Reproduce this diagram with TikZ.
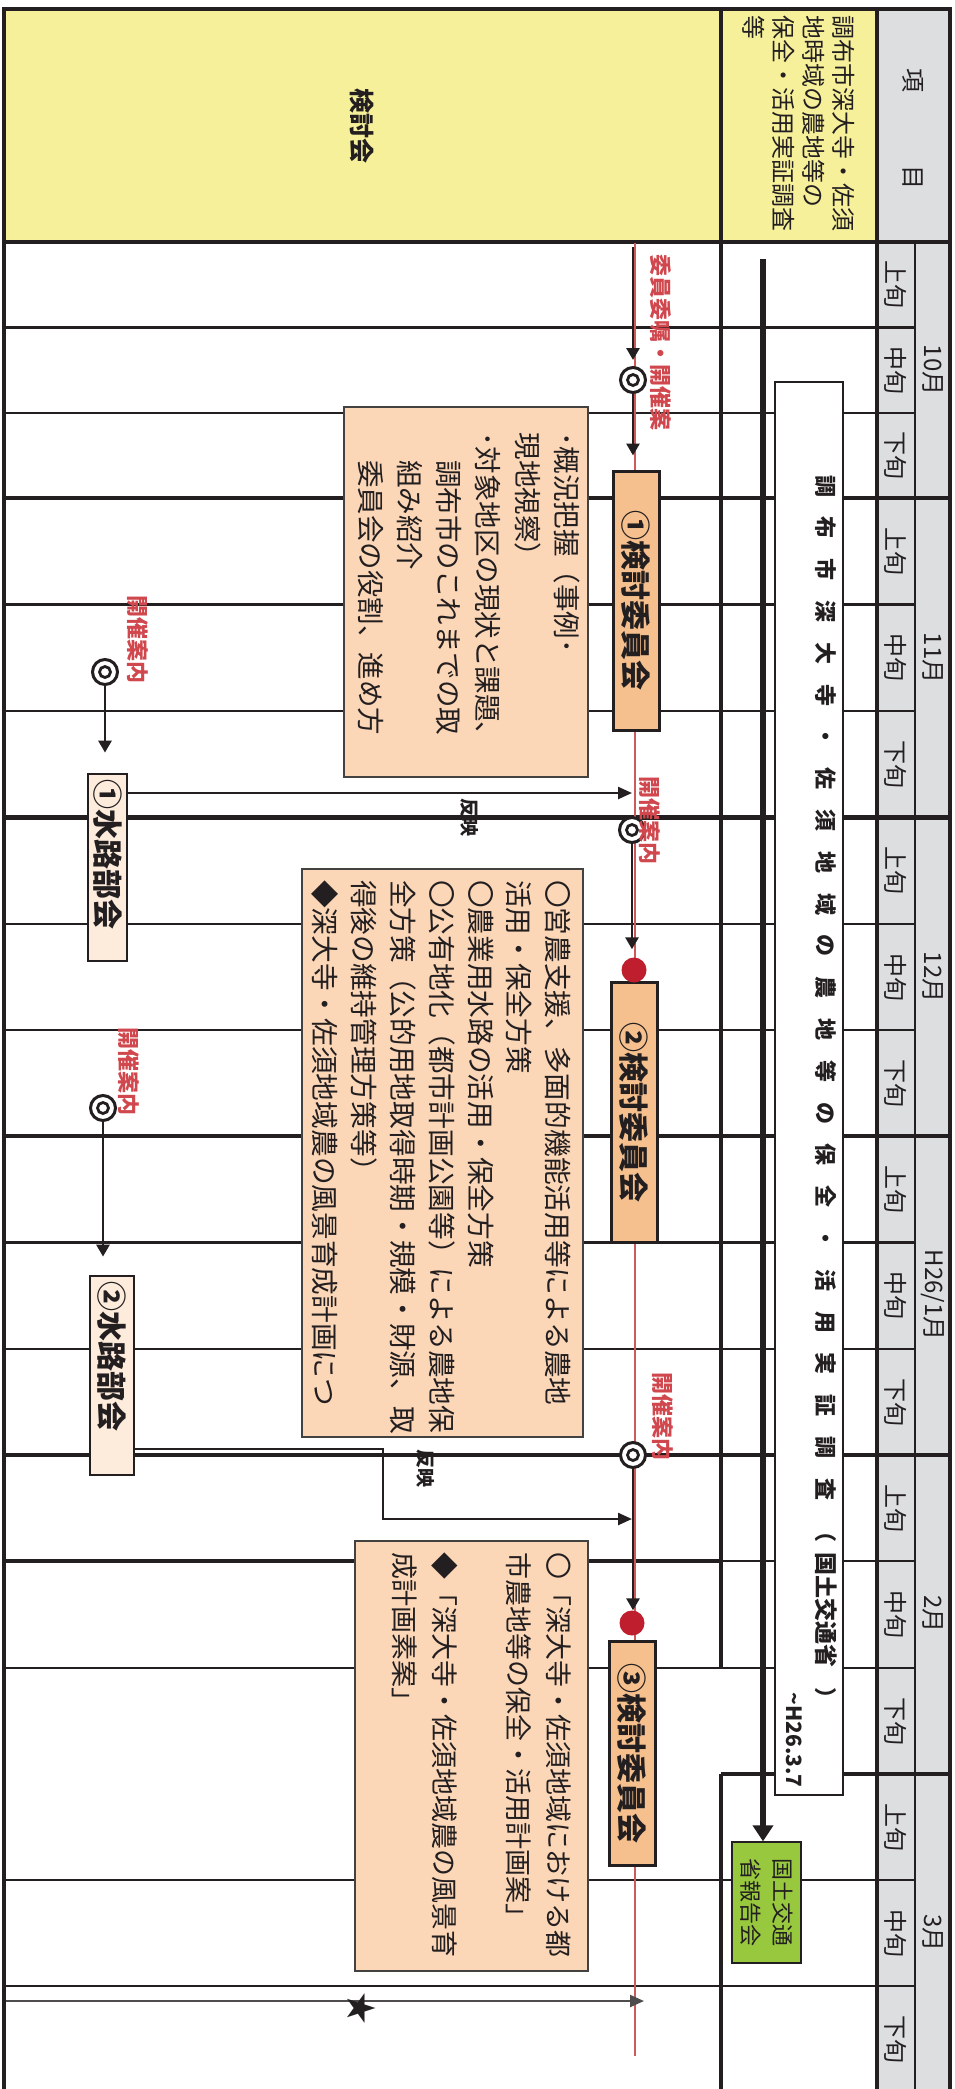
\documentclass[tikz,border=0pt]{standalone}
\usepackage{fontspec}
\setmainfont{Noto Sans CJK JP}
\usetikzlibrary{arrows.meta}
\definecolor{hdryellow}{RGB}{246,240,155}
\definecolor{hdrgray}{RGB}{221,222,224}
\definecolor{peach}{RGB}{251,214,183}
\definecolor{orangebox}{RGB}{246,192,142}
\definecolor{lightpeach}{RGB}{253,235,220}
\definecolor{redtxt}{RGB}{208,72,78}
\definecolor{reddot}{RGB}{190,30,45}
\definecolor{redline}{RGB}{205,90,90}
\definecolor{greenbox}{RGB}{151,200,62}
\definecolor{ink}{RGB}{35,31,32}
\newcommand{\setfs}[2]{\fontsize{#1pt}{#2pt}\selectfont}
\newcommand{\bc}[1]{\makebox[41.8pt][c]{#1}}
\tikzset{
  rot/.style={rotate=-90, inner sep=0pt, text=ink},
  thinln/.style={line width=2.3pt, draw=ink},
  thickln/.style={line width=4.5pt, draw=ink},
  monthlbl/.style={rot, font=\setfs{24}{24}},
  jlbl/.style={rot, font=\setfs{24}{24}},
  redlbl/.style={rot, font=\setfs{22}{22}\bfseries, text=redtxt},
  hanei/.style={rot, font=\setfs{19}{19}\bfseries},
  committee/.style={rot, draw=ink, line width=3pt, fill=orangebox, minimum height=46pt, font=\setfs{30}{30}\bfseries},
  waterbox/.style={rot, draw=ink, line width=2.8pt, fill=lightpeach, font=\setfs{30}{30}\bfseries},
  descbox/.style={draw=ink!85, line width=1.8pt, fill=peach, inner sep=0pt},
  desctext/.style={rot, align=left},
  dcirc/.style={circle, draw=ink, line width=3pt, fill=white, minimum size=25pt, inner sep=0pt,
    path picture={\draw[line width=2.8pt, ink] (path picture bounding box.center) circle (5.5pt);}},
  rdot/.style={circle, fill=reddot, minimum size=25pt, inner sep=0pt},
  arr/.style={draw=ink, line width=2.8pt, -{Triangle[length=12pt,width=13pt]}},
  refarr/.style={draw=ink, line width=2.4pt, -{Triangle[length=14pt,width=12pt]}},
  bigarr/.style={draw=ink, line width=6pt, -{Triangle[length=16pt,width=20pt]}},
  starline/.style={draw=ink!80, line width=2.2pt, -{Triangle[length=14pt,width=12pt]}},
}
\begin{document}
\begin{tikzpicture}[x=1pt,y=-1pt]
\useasboundingbox (0,0) rectangle (955,2089);
\clip (0,0) rectangle (955,2089);
\fill[white] (0,0) rectangle (955,2089);
% fills
\fill[hdryellow] (4,9) rectangle (877,242);
\fill[hdrgray] (877,9) rectangle (950,2100);
% grid lines
\foreach \y in {327.5,413,604.5,711,924,1030,1242.5,1349,1668,1880,1986}
  \draw[thinln] (4,\y) -- (915,\y);
\draw[thickln] (4,1561) -- (721,1561);
\draw[thinln] (721,1561) -- (915,1561);
\foreach \y in {498,817.5,1136,1455}
  \draw[thickln] (4,\y) -- (950,\y);
\draw[thickln] (721,1774) -- (950,1774);
\draw[thickln] (721,9) -- (721,1668);
\draw[thickln] (721,1774) -- (721,2100);
\draw[thickln] (877,9) -- (877,2100);
\draw[line width=2.8pt, ink] (915,242) -- (915,2100);
\draw[thickln] (4,242) -- (950,242);
\draw[thickln] (4,2100) -- (4,9) -- (950,9) -- (950,2100);
% header texts
\node[rot, font=\setfs{25}{25}\bfseries] (h1) at (362,126) {検討会};
\node[rot, align=left, font=\setfs{24}{30}] (h2) at (799,123) {調布市深大寺・佐須\\地時域の農地等の\\保全・活用実証調査\\等};
\node[rot, font=\setfs{24}{24}] (h3a) at (913,80) {項};
\node[rot, font=\setfs{24}{24}] (h3b) at (913,177) {目};
% month labels
\node[monthlbl] (m10) at (933,370) {10月};
\node[monthlbl] (m11) at (933,658) {11月};
\node[monthlbl] (m12) at (933,977) {12月};
\node[monthlbl] (m01) at (933,1295) {H26/1月};
\node[monthlbl] (m02) at (933,1614) {2月};
\node[monthlbl] (m03) at (933,1933) {3月};
\foreach \yy/\jj [count=\i] in {284.75/上旬,370.25/中旬,455.5/下旬,551.25/上旬,657.75/中旬,764.25/下旬,870.75/上旬,977/中旬,1083/下旬,1189/上旬,1295.75/中旬,1402/下旬,1508/上旬,1614.5/中旬,1721/下旬,1827/上旬,1933/中旬,2039/下旬}
  \node[jlbl] (jun\i) at (896,\yy) {\jj};
% red timeline
\coordinate (rt) at (635,243);
\coordinate (rb) at (635,2056);
\draw[redline, line width=1.6pt] (rt) -- (rb);
% description boxes
\node[descbox, minimum width=244pt, minimum height=370pt] (b1) at (466,592) {};
\node[desctext, font=\setfs{27.5}{39.2}] (t1) at (469,591) {･概況把握（事例･\\現地視察）\\･対象地区の現状と課題、\\　調布市のこれまでの取\\　組み紹介\\　委員会の役割、進め方};
\node[descbox, minimum width=281pt, minimum height=568pt] (b2) at (442.5,1153) {};
\node[desctext, font=\setfs{27.7}{38.8}] (t2) at (441.5,1157) {〇営農支援、多面的機能活用等による農地\\活用・保全方策\\〇農業用水路の活用・保全方策\\〇公有地化（都市計画公園等）による農地保\\全方策（公的用地取得時期・規模・財源、取\\得後の維持管理方策等）\\◆深大寺・佐須地域農の風景育成計画につ};
\node[descbox, minimum width=233pt, minimum height=430pt] (b3) at (471.5,1756) {};
\node[desctext, font=\setfs{27}{40}] (t3) at (481.5,1754.5) {〇「深大寺・佐須地域における都\\市農地等の保全・活用計画案」\\[34pt]◆「深大寺・佐須地域農の風景育\\成計画素案」};
% white bar
\node[draw=ink, line width=1.4pt, fill=white, minimum width=68pt, minimum height=1413pt, inner sep=0pt] (bar) at (809,1088.5) {};
\node[rot, anchor=west, font=\setfs{22}{22}\bfseries] (bart) at (826,465) {\bc{調}\bc{布}\bc{市}\bc{深}\bc{大}\bc{寺}\bc{・}\bc{佐}\bc{須}\bc{地}\bc{域}\bc{の}\bc{農}\bc{地}\bc{等}\bc{の}\bc{保}\bc{全}\bc{・}\bc{活}\bc{用}\bc{実}\bc{証}\bc{調}\bc{査}\bc{（}{\setfs{23}{23}国土交通省}\hspace{20pt}）};
\node[rot, font=\setfs{21}{21}\bfseries] (bare) at (794,1740) {\textasciitilde H26.3.7};
% green box
\node[rot, draw=ink, line width=1.4pt, fill=greenbox, minimum width=121pt, minimum height=69pt, align=left, font=\setfs{22}{32}] (g) at (766.5,1902.5) {国土交通\\省報告会};
\coordinate (bs) at (763,259);
\draw[bigarr] (bs) -- (bs |- g.west);
% committee boxes
\node[committee, minimum width=259pt] (k1) at (636,600.5) {①検討委員会};
\node[committee, minimum width=260pt] (k2) at (634,1112) {②検討委員会};
\node[committee, minimum width=224pt] (k3) at (632,1753) {③検討委員会};
% water boxes
\node[waterbox, minimum width=187pt, minimum height=39pt] (w1) at (107.5,867.5) {①水路部会\hspace*{27pt}};
\node[waterbox, minimum width=199pt, minimum height=44pt] (w2) at (112,1375.5) {②水路部会\hspace*{39pt}};
% circles and dots
\node[dcirc] (c1) at (633,380) {};
\node[dcirc] (c2) at (632,830) {};
\node[dcirc] (c3) at (633,1455) {};
\node[dcirc] (cw1) at (105,672) {};
\node[dcirc] (cw2) at (103,1108) {};
\node[rdot] (d2) at (634,970) {};
\node[rdot] (d3) at (632,1623) {};
% arrows
\coordinate (a0) at (633,247);
\draw[arr] (a0) -- ([yshift=6pt]c1.north);
\draw[arr] (c1.south) -- ([yshift=14pt]c1.south |- k1.west);
\draw[arr] (c2.south) -- ([yshift=8pt]c2.south |- d2.north);
\draw[arr] (c3.south) -- (c3.south |- d3.north);
\draw[arr] (cw1.south) -- ([yshift=20pt]cw1.south |- w1.west);
\draw[arr] (cw2.south) -- ([yshift=18pt]cw2.south |- w2.west);
\coordinate (r1) at (632,793);
\draw[refarr] (w1.north |- r1) -- (r1);
\coordinate (r2a) at (383,1449);
\coordinate (r2) at (632,1519);
\draw[refarr] (w2.north |- r2a) -- (r2a) |- (r2);
% star line
\coordinate (s0) at (6,2001);
\coordinate (s1) at (644,2001);
\draw[starline] (s0) -- (s1);
\node[rot, font=\setfs{32}{32}] (st) at (362,2008) {★};
% labels
\node[redlbl] (l1) at (661,342) {委員委嘱・開催案};
\node[redlbl] (l2) at (650,820) {開催案内};
\node[redlbl] (l3) at (663,1416) {開催案内};
\node[redlbl] (l4) at (138,639) {開催案内};
\node[redlbl] (l5) at (129,1071) {開催案内};
\node[hanei] (hn1) at (470,817) {反映};
\node[hanei] (hn2) at (426,1468) {反映};
\end{tikzpicture}
\end{document}
